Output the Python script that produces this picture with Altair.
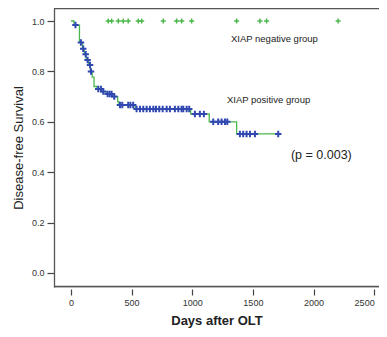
import altair as alt
import pandas as pd

# Positive group: Kaplan-Meier step points (days, survival)
pos_step_days = [0, 25, 70, 95, 110, 125, 145, 160, 175, 190, 215, 250, 290, 340, 385, 395, 530, 987, 1140, 1366, 1709]
pos_step_surv = [1.0, 0.984, 0.915, 0.89, 0.868, 0.845, 0.825, 0.80, 0.777, 0.74, 0.73, 0.72, 0.71, 0.70, 0.68, 0.667, 0.651, 0.631, 0.60, 0.552, 0.552]

# Positive group censored observations (days)
pos_censor_days = [37, 82, 101, 121, 137, 157, 165, 225, 247, 266, 302, 319, 335, 357, 404, 423, 472, 490, 513,
                   541, 569, 596, 624, 651, 679, 701, 728, 756, 789, 816, 857, 885, 912, 926, 954, 975,
                   1022, 1063, 1096, 1173, 1214, 1242, 1270, 1289, 1393, 1420, 1448, 1476, 1517, 1709]

# Negative group censored observations (all at survival 1.0)
neg_censor_days = [307, 335, 390, 431, 472, 555, 583, 761, 871, 913, 995, 1366, 1558, 1613, 2203]
neg_surv = 1.0

labels = ["XIAP negative group", "XIAP positive group", "(p = 0.003)"]
label_days = [1319, 1286, 1814]
label_surv = [0.929, 0.687, 0.468]
label_size = [9.5, 9.5, 12.5]


def surv_at(t):
    s = pos_step_surv[0]
    for d, v in zip(pos_step_days, pos_step_surv):
        if d <= t:
            s = v
    return s


step_df = pd.DataFrame({"days": pos_step_days, "surv": pos_step_surv})
pos_df = pd.DataFrame({"days": pos_censor_days, "surv": [surv_at(t) for t in pos_censor_days]})
neg_df = pd.DataFrame({"days": neg_censor_days, "surv": [neg_surv] * len(neg_censor_days)})
lab_df = pd.DataFrame({"label": labels, "days": label_days, "surv": label_surv, "size": label_size})

FONT = "Liberation Sans"
GREEN = "#4cb84c"
BLUE = "#3048b0"
FRAME = "#555555"
PLUS = "M-1,0L1,0M0,-1L0,1"
W, H = 325, 279

xscale = alt.Scale(domain=[-140, 2540], nice=False, zero=False)
yscale = alt.Scale(domain=[-0.0556, 1.0516], nice=False, zero=False)

xaxis = alt.Axis(title="Days after OLT", values=[0, 500, 1000, 1500, 2000, 2500], format="d", grid=False, domain=False,
                 offset=2, tickSize=6, tickColor="#444", tickWidth=1.2, labelFontSize=9, labelColor="#333",
                 labelPadding=3, labelFont=FONT, labelFlush=8, labelFlushOffset=0,
                 titleFont=FONT, titleFontSize=13, titleFontWeight="bold",
                 titleColor="#222", titlePadding=7)
yaxis = alt.Axis(title="Disease-free Survival", values=[0, 0.2, 0.4, 0.6, 0.8, 1.0], format=".1f", grid=False,
                 domain=True, domainColor=FRAME, domainWidth=1.3,
                 tickSize=7, tickColor="#444", tickWidth=1.2, labelFontSize=9, labelColor="#333",
                 labelPadding=3, labelFont=FONT, titleFont=FONT, titleFontSize=13, titleFontWeight="normal",
                 titleColor="#222", titlePadding=6)

line = alt.Chart(step_df).mark_line(interpolate="step-after", color=GREEN, strokeWidth=1.3).encode(
    x=alt.X("days:Q", scale=xscale, axis=xaxis),
    y=alt.Y("surv:Q", scale=yscale, axis=yaxis),
)

top_border = alt.Chart().mark_rule(color=FRAME, strokeWidth=1.3).encode(
    x=alt.value(0), x2=alt.value(W), y=alt.value(0.5)
)
bottom_border = alt.Chart().mark_rule(color=FRAME, strokeWidth=1.3).encode(
    x=alt.value(0), x2=alt.value(W), y=alt.value(H - 0.5)
)

pos_pts = alt.Chart(pos_df).mark_point(shape=PLUS, filled=False, color=BLUE, strokeWidth=2, size=42, opacity=1).encode(
    x=alt.X("days:Q", scale=xscale),
    y=alt.Y("surv:Q", scale=yscale),
)

neg_pts = alt.Chart(neg_df).mark_point(shape=PLUS, filled=False, color=GREEN, strokeWidth=1.5, size=26, opacity=1).encode(
    x=alt.X("days:Q", scale=xscale),
    y=alt.Y("surv:Q", scale=yscale),
)

texts = alt.Chart(lab_df).mark_text(align="left", baseline="middle", font=FONT, color="#222").encode(
    x=alt.X("days:Q", scale=xscale),
    y=alt.Y("surv:Q", scale=yscale),
    text="label:N",
    size=alt.Size("size:Q", scale=None, legend=None),
)

chart = alt.layer(line, top_border, bottom_border, pos_pts, neg_pts, texts).properties(
    width=W, height=H,
    autosize=alt.AutoSizeParams(type="none"),
    padding={"left": 46, "top": 0, "right": 0, "bottom": 42},
).configure_view(fill="#f3f3f3", strokeWidth=0).configure(background="white")

chart.save("out.html", embed_options={"renderer": "svg", "actions": False})
